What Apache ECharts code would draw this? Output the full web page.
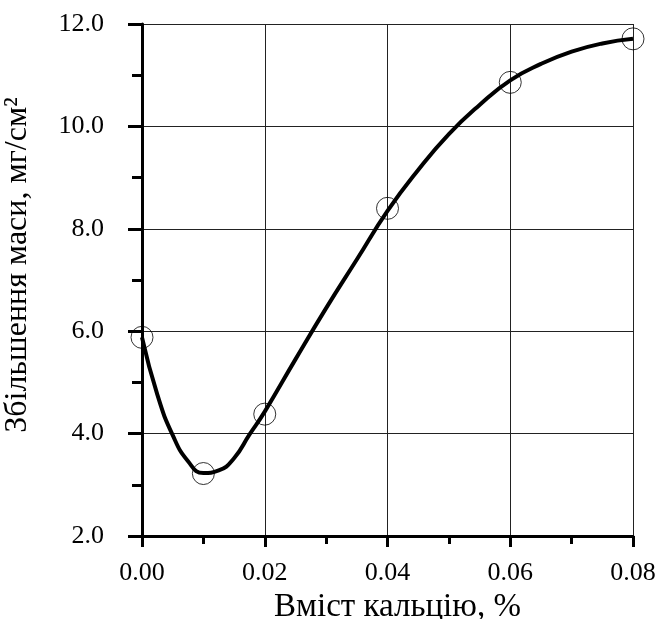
<!DOCTYPE html>
<html>
<head>
<meta charset="utf-8">
<script src="https://cdn.jsdelivr.net/npm/echarts@6/dist/echarts.min.js"></script>
<style>html,body{margin:0;padding:0;background:#fff;}#c{width:662px;height:619px;}</style>
</head>
<body>
<div id="c"></div>
<script>
// measured points (circles)
const calcium = [0.00, 0.01, 0.02, 0.04, 0.06, 0.08];
const massGain = [5.88, 3.22, 4.38, 8.40, 10.86, 11.71];
// fitted curve
const curveX = [0, 0.0025, 0.005, 0.0075, 0.01, 0.0125, 0.015, 0.0175, 0.02, 0.025, 0.03, 0.035, 0.04, 0.045, 0.05, 0.055, 0.06, 0.065, 0.07, 0.075, 0.08];
const curveY = [5.88, 4.76, 3.97, 3.46, 3.23, 3.28, 3.52, 3.98, 4.43, 5.45, 6.45, 7.40, 8.35, 9.15, 9.85, 10.42, 10.90, 11.22, 11.46, 11.62, 11.71];
const xTitle = 'Вміст кальцію, %';
const yTitle = 'Збільшення маси, мг/см²';

const pts = calcium.map((x, i) => [x, massGain[i]]);
const curve = curveX.map((x, i) => [x, curveY[i]]);
const font = 'Liberation Serif, Times New Roman, serif';
const chart = echarts.init(document.getElementById('c'));
chart.setOption({
  animation: false,
  backgroundColor: '#fff',
  grid: {left: 142, right: 29, top: 24, bottom: 83, containLabel: false, outerBoundsMode: 'none'},
  xAxis: {
    type: 'value', min: 0, max: 0.08, interval: 0.02,
    name: xTitle, nameLocation: 'middle', nameGap: 52,
    nameTextStyle: {fontFamily: font, fontSize: 33, color: '#000', padding: [0, 0, 0, 20]},
    axisLine: {show: true, lineStyle: {color: '#000', width: 3}},
    axisTick: {show: true, length: 11, lineStyle: {color: '#000', width: 3}},
    minorTick: {show: true, splitNumber: 2, length: 8, lineStyle: {color: '#000', width: 3}},
    splitLine: {show: true, lineStyle: {color: '#222', width: 1}},
    axisLabel: {fontFamily: font, fontSize: 26, color: '#000', margin: 24,
      formatter: v => v.toFixed(2)}
  },
  yAxis: {
    type: 'value', min: 2, max: 12, interval: 2,
    name: yTitle, nameLocation: 'middle', nameGap: 108,
    nameTextStyle: {fontFamily: font, fontSize: 32, color: '#000', padding: [0, 0, 0, 30]},
    axisLine: {show: true, lineStyle: {color: '#000', width: 3}},
    axisTick: {show: true, length: 14, lineStyle: {color: '#000', width: 3}},
    minorTick: {show: true, splitNumber: 2, length: 10, lineStyle: {color: '#000', width: 3}},
    splitLine: {show: true, lineStyle: {color: '#222', width: 1}},
    axisLabel: {fontFamily: font, fontSize: 26, color: '#000', margin: 38,
      formatter: v => v.toFixed(1)}
  },
  series: [
    {
      type: 'scatter', data: pts, symbol: 'circle', symbolSize: 22,
      itemStyle: {color: 'rgba(0,0,0,0)', borderColor: '#000', borderWidth: 1},
      z: 2
    },
    {
      type: 'line', data: curve, smooth: 0.5, symbol: 'none',
      lineStyle: {color: '#000', width: 4}, z: 3
    }
  ]
});
</script>
</body>
</html>
